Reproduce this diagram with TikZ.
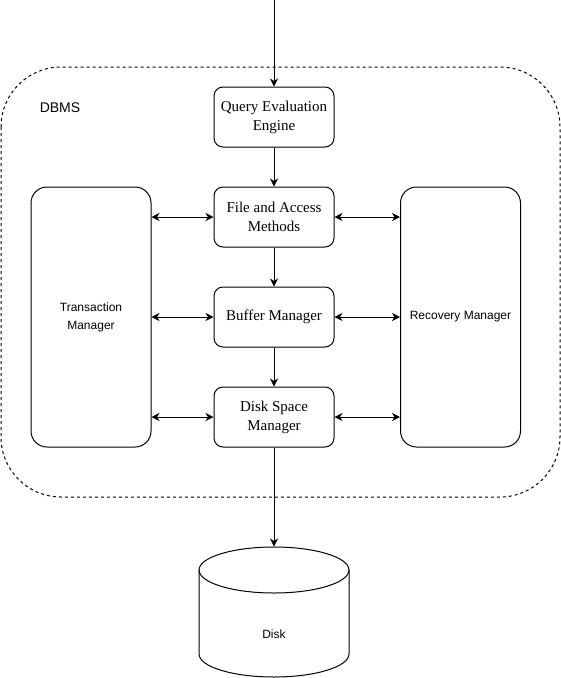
\documentclass[tikz,border=0pt]{standalone}
\usepackage{fontspec}
\setmainfont{Liberation Serif}
\setsansfont{Liberation Sans}
\usetikzlibrary{arrows.meta}
\begin{document}
\begin{tikzpicture}[x=1pt,y=-1pt,
  line width=1pt,
  tip/.tip={Stealth[length=8pt,width=8pt,inset=2.5pt]},
  arr/.style={-tip},
  darr/.style={tip-tip},
  core/.style={draw, rounded corners=9pt, minimum width=120pt, minimum height=60pt, inner sep=0pt, align=center, font=\fontsize{15}{19}\selectfont},
  side/.style={draw, rounded corners=16pt, minimum width=120pt, minimum height=260pt, inner sep=0pt, align=center, font=\sffamily\fontsize{12}{18}\selectfont},
  lab/.style={font=\sffamily\fontsize{12}{14}\selectfont},
  outer/.style={draw, dash pattern=on 3pt off 3pt, rounded corners=60pt}]
\useasboundingbox (0,0) rectangle (561,678);
\draw[outer] (1,67) rectangle (560,497);
\node[lab, font=\sffamily\fontsize{14}{16}\selectfont] (dbms) at (60,108) {DBMS};
\coordinate (in) at (274,0);
\node[core] (qee) at (274,117) {Query Evaluation\\Engine};
\node[core] (fam) at (274,217) {File and Access\\Methods};
\node[core] (bm) at (274,317) {Buffer Manager};
\node[core] (dsm) at (274,417) {Disk Space\\Manager};
\node[side] (tm) at (91,317) {Transaction\\Manager};
\node[side] (rm) at (460.5,317) {Recovery Manager};
% disk cylinder
\draw (199,570) -- (199,654) arc[start angle=180,end angle=0,x radius=75,y radius=23] -- (349,570);
\draw (274,570) ellipse[x radius=75, y radius=23];
\node[minimum width=150pt, minimum height=130pt, inner sep=0pt] (disk) at (274,612) {};
\node[lab] (disklab) at (274,634) {Disk};
% connectors
\draw[arr] (in) -- (qee);
\draw[arr] (qee) -- (fam);
\draw[arr] (fam) -- (bm);
\draw[arr] (bm) -- (dsm);
\draw[arr] (dsm) -- (disk.north);
\draw[darr] (tm.east |- fam) -- (fam);
\draw[darr] (tm.east |- bm) -- (bm);
\draw[darr] (tm.east |- dsm) -- (dsm);
\draw[darr] (fam) -- (rm.west |- fam);
\draw[darr] (bm) -- (rm.west |- bm);
\draw[darr] (dsm) -- (rm.west |- dsm);
\end{tikzpicture}
\end{document}
